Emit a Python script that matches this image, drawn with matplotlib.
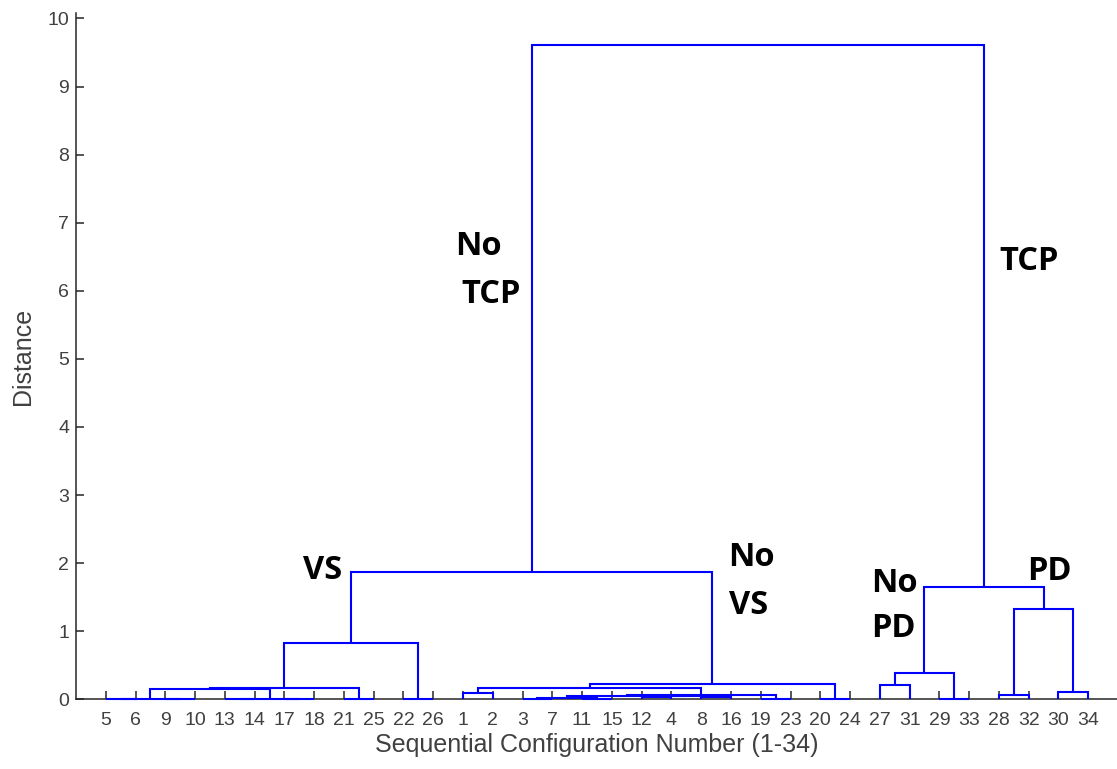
import matplotlib
matplotlib.use('Agg')
import matplotlib.pyplot as plt

# ---------------- data ----------------
leaf_order = [5, 6, 9, 10, 13, 14, 17, 18, 21, 25, 22, 26,
              1, 2, 3, 7, 11, 15, 12, 4, 8, 16, 19, 23, 20, 24,
              27, 31, 29, 33, 28, 32, 30, 34]
n_leaves = 34

# linkage: node ids 1..34 are leaves, merge k creates node 35+k
link_left = [5, 9, 35, 13, 17, 38, 37, 21, 41, 22, 43,
             1, 3, 11, 47, 12, 8, 50, 49, 19, 53, 46, 20, 56, 45,
             27, 29, 60, 28, 30, 63, 62, 59]
link_right = [6, 10, 36, 14, 18, 39, 40, 25, 42, 26, 44,
              2, 7, 15, 48, 4, 16, 51, 52, 23, 54, 55, 24, 57, 58,
              31, 33, 61, 32, 34, 64, 65, 66]
link_height = [0.0, 0.0, 0.0, 0.0, 0.0, 0.0, 0.15, 0.0, 0.17, 0.0, 0.83,
               0.09, 0.005, 0.01, 0.02, 0.03, 0.03, 0.045, 0.05, 0.0, 0.07, 0.17, 0.01, 0.22, 1.87,
               0.21, 0.0, 0.39, 0.063, 0.107, 1.33, 1.65, 9.61]

annot_text = ['No', 'TCP', 'TCP', 'VS', 'No', 'VS', 'No', 'PD', 'PD']
annot_x = [11.75, 11.95, 30.02, 6.64, 20.90, 20.94, 25.70, 25.70, 30.94]
annot_y = [6.53, 5.82, 6.31, 1.77, 1.96, 1.25, 1.58, 0.92, 1.75]

y_ticks = list(range(0, 11))

# ---------------- figure ----------------
W, H = 1117, 769
fig = plt.figure(figsize=(W / 100, H / 100), dpi=100)
ax = fig.add_axes([76 / W, (H - 699.3) / H, 1042 / W, 686.3 / H])

axis_col = '#262626'
tick_col = '#404040'

pos = {leaf: i for i, leaf in enumerate(leaf_order)}
hgt = {leaf: 0.0 for leaf in leaf_order}
for k, (a, b, h) in enumerate(zip(link_left, link_right, link_height)):
    node = n_leaves + 1 + k
    xa, xb = pos[a], pos[b]
    ax.plot([xa, xa, xb, xb], [hgt[a], h, h, hgt[b]], color='#0000ff',
            lw=1.5, solid_joinstyle='miter', solid_capstyle='butt', zorder=3,
            clip_on=False)
    pos[node] = (xa + xb) / 2.0
    hgt[node] = h

ax.set_xlim(-1, 34)
ax.set_ylim(0, 10.08)

ax.set_xticks(range(n_leaves))
ax.set_xticklabels([str(v) for v in leaf_order])
ax.set_yticks(y_ticks)
ax.set_yticklabels([str(v) for v in y_ticks])

for s in ['top', 'right']:
    ax.spines[s].set_visible(False)
for s in ['left', 'bottom']:
    ax.spines[s].set_color(axis_col)
    ax.spines[s].set_linewidth(1.1)

ax.tick_params(axis='both', direction='in', length=6, width=1.1, color=axis_col,
               labelcolor=tick_col, labelsize=14)
ax.tick_params(axis='x', pad=9)
ax.tick_params(axis='y', pad=5)
for lab in ax.get_xticklabels() + ax.get_yticklabels():
    lab.set_fontfamily('Liberation Sans')

ax.set_xlabel('Sequential Configuration Number (1-34)', fontsize=18,
              fontfamily='Liberation Sans', color=tick_col, labelpad=3)
ax.set_ylabel('Distance', fontsize=18, fontfamily='Liberation Sans',
              color=tick_col, labelpad=9)

for t, x, y in zip(annot_text, annot_x, annot_y):
    ax.text(x, y, t, fontsize=23.5, fontweight='bold', fontfamily='Open Sans',
            color='black', ha='left', va='baseline', zorder=5)

fig.savefig('out.png', dpi=100)
